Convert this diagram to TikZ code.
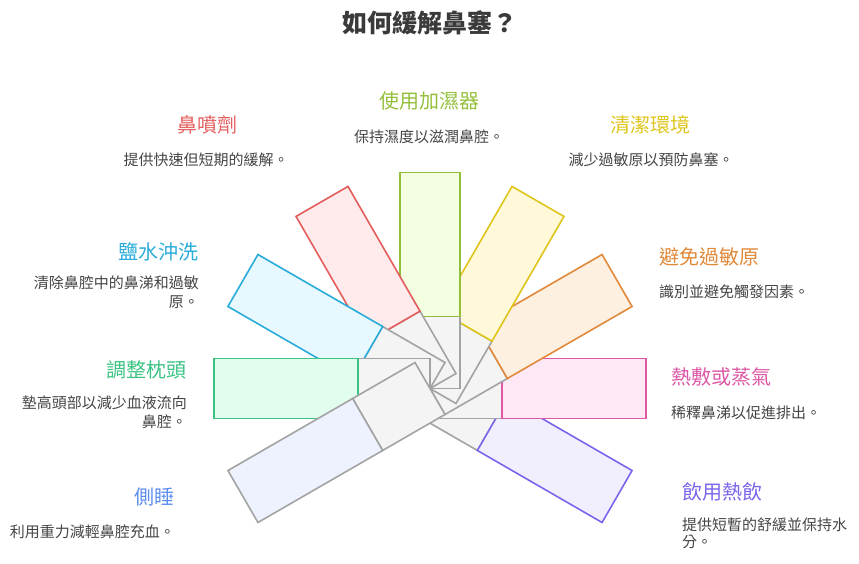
\documentclass[tikz,border=0pt]{standalone}
\usepackage{fontspec}
\setmainfont{Noto Sans CJK TC}
\definecolor{grayline}{HTML}{A3A3A3}
\definecolor{grayfill}{HTML}{F4F4F4}
\definecolor{txt}{HTML}{444444}
\definecolor{ttl}{HTML}{3A3A3A}
\definecolor{redS}{HTML}{E35D5D}\definecolor{redF}{HTML}{FFEBEB}
\definecolor{limeS}{HTML}{93BF3B}\definecolor{limeF}{HTML}{F3FFE0}
\definecolor{yelS}{HTML}{DFC51B}\definecolor{yelF}{HTML}{FFF9DA}
\definecolor{oraS}{HTML}{E0893A}\definecolor{oraF}{HTML}{FEF0E1}
\definecolor{pinkS}{HTML}{DD58A6}\definecolor{pinkF}{HTML}{FFE8F5}
\definecolor{purS}{HTML}{7B64EB}\definecolor{purF}{HTML}{F1EFFE}
\definecolor{bluT}{HTML}{5B8DEE}\definecolor{bluF}{HTML}{EDF2FE}
\definecolor{grnS}{HTML}{3CC383}\definecolor{grnF}{HTML}{E1FDEE}
\definecolor{cyaS}{HTML}{2AACDA}\definecolor{cyaF}{HTML}{E7F8FE}
\tikzset{
  innerbox/.style={draw=grayline, fill=grayfill, line width=1.6pt},
  outerbox/.style={line width=1.6pt},
  ttlnode/.style={inner sep=0pt, font=\fontsize{20}{24}\selectfont},
  descnode/.style={inner sep=0pt, text=txt, font=\fontsize{15}{19}\selectfont},
}
\newcommand\myspoke[3]{%
  \begin{scope}[shift={(430,388.5)},rotate=#1]
    \draw[innerbox] (0,-30) rectangle (72,30);
    \draw[outerbox, draw=#2, fill=#3] (72,-30) rectangle (216,30);
  \end{scope}}
\begin{document}
\begin{tikzpicture}[x=1pt,y=-1pt]
\useasboundingbox (0,0) rectangle (859,563);
% spokes, in drawing order
\myspoke{-30}{purS}{purF}
\myspoke{0}{pinkS}{pinkF}
\myspoke{30}{oraS}{oraF}
\myspoke{60}{yelS}{yelF}
\myspoke{90}{limeS}{limeF}
\myspoke{120}{redS}{redF}
\myspoke{150}{cyaS}{cyaF}
\myspoke{180}{grnS}{grnF}
\myspoke{210}{grayline}{bluF}
% title
\node[inner sep=0pt, text=ttl, font=\fontsize{25}{30}\selectfont\bfseries] (title) at (430,23) {如何緩解鼻塞？};
% top
\node[ttlnode, text=limeS] (t1) at (429,101) {使用加濕器};
\node[descnode] (d1) at (429,137) {保持濕度以滋潤鼻腔。};
\node[ttlnode, text=redS] (t2) at (207,125) {鼻噴劑};
\node[descnode] (d2) at (206,160) {提供快速但短期的緩解。};
\node[ttlnode, text=yelS] (t3) at (650,125) {清潔環境};
\node[descnode] (d3) at (651,160) {減少過敏原以預防鼻塞。};
% left
\node[ttlnode, text=cyaS, anchor=east] (t4) at (199,252) {鹽水沖洗};
\node[descnode, anchor=east] (d4a) at (199,283) {清除鼻腔中的鼻涕和過敏};
\node[descnode, anchor=east] (d4b) at (199,302) {原。};
\node[ttlnode, text=grnS, anchor=east] (t5) at (187,370) {調整枕頭};
\node[descnode, anchor=east] (d5a) at (187,403) {墊高頭部以減少血液流向};
\node[descnode, anchor=east] (d5b) at (187,422) {鼻腔。};
\node[ttlnode, text=bluT, anchor=east] (t6) at (175,497) {側睡};
\node[descnode, anchor=east] (d6) at (175,532) {利用重力減輕鼻腔充血。};
% right
\node[ttlnode, text=oraS, anchor=west] (t7) at (659,257) {避免過敏原};
\node[descnode, anchor=west] (d7) at (659,292) {識別並避免觸發因素。};
\node[ttlnode, text=pinkS, anchor=west] (t8) at (671,377) {熱敷或蒸氣};
\node[descnode, anchor=west] (d8) at (671,413) {稀釋鼻涕以促進排出。};
\node[ttlnode, text=purS, anchor=west] (t9) at (682,492) {飲用熱飲};
\node[descnode, anchor=west] (d9a) at (682,525) {提供短暫的舒緩並保持水};
\node[descnode, anchor=west] (d9b) at (682,542) {分。};
\end{tikzpicture}
\end{document}
